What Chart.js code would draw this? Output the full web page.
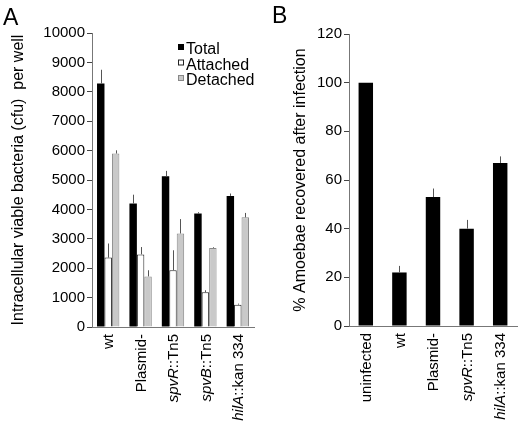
<!DOCTYPE html>
<html>
<head>
<meta charset="utf-8">
<script src="https://cdn.jsdelivr.net/npm/chart.js@4.4.1/dist/chart.umd.min.js"></script>
<style>
  body{ margin:0; background:#fff; }
  #wrapA{ position:absolute; left:0; top:0; width:260px; height:424px; }
  #wrapB{ position:absolute; left:260px; top:0; width:258px; height:424px; }
</style>
</head>
<body>
<div id="wrapA"><canvas id="chartA" width="260" height="424"></canvas></div>
<div id="wrapB"><canvas id="chartB" width="258" height="424"></canvas></div>
<script>
const FONT = "'Liberation Sans', Arial, Helvetica, sans-serif";

// panel A
const strainsA = ['wt', 'Plasmid-', 'spvR::Tn5', 'spvB::Tn5', 'hilA::kan 334'];
const totalA = [8280, 4200, 5130, 3860, 4460];
const totalErrA = [470, 300, 180, 45, 80];
const attachedA = [2360, 2470, 1930, 1180, 760];
const attachedErrA = [480, 250, 680, 70, 35];
const detachedA = [5900, 1720, 3180, 2690, 3730];
const detachedErrA = [110, 210, 490, 25, 150];

// panel B
const strainsB = ['uninfected', 'wt', 'Plasmid-', 'spvR::Tn5', 'hilA::kan 334'];
const recoveredB = [100, 22, 53, 40, 67];
const recoveredErrB = [0, 2.7, 3.5, 3.6, 2.7];

// thin one-sided error bars
const errorBars = {
  id: 'errorBars',
  afterDatasetsDraw(chart){
    const ctx = chart.ctx, y = chart.scales.y;
    ctx.save();
    ctx.strokeStyle = '#555';
    ctx.lineWidth = 1;
    chart.data.datasets.forEach((ds, di)=>{
      if(!ds.errors) return;
      chart.getDatasetMeta(di).data.forEach((bar, i)=>{
        const e = ds.errors[i];
        if(!e) return;
        const x = Math.round(bar.x) + 0.5;
        ctx.beginPath();
        ctx.moveTo(x, bar.y);
        ctx.lineTo(x, y.getPixelForValue(ds.data[i] + e));
        ctx.stroke();
      });
    });
    ctx.restore();
  }
};

// rotated category labels, gene name before '::' in italics
const strainLabels = {
  id: 'strainLabels',
  afterDraw(chart){
    const ctx = chart.ctx, xs = chart.scales.x;
    const top = chart.chartArea.bottom + 7;
    ctx.save();
    ctx.fillStyle = '#000';
    ctx.textBaseline = 'middle';
    ctx.textAlign = 'left';
    chart.data.labels.forEach((lab, i)=>{
      const k = lab.indexOf('::');
      const parts = k > 0 ? [[lab.slice(0, k), true], [lab.slice(k), false]] : [[lab, false]];
      let w = 0;
      parts.forEach(p=>{ ctx.font = (p[1] ? 'italic ' : '') + '15px ' + FONT; w += ctx.measureText(p[0]).width; });
      ctx.save();
      ctx.translate(xs.getPixelForValue(i) + 1, top);
      ctx.rotate(-Math.PI / 2);
      let x = -w;
      parts.forEach(p=>{
        ctx.font = (p[1] ? 'italic ' : '') + '15px ' + FONT;
        ctx.fillText(p[0], x, 0);
        x += ctx.measureText(p[0]).width;
      });
      ctx.restore();
    });
    ctx.restore();
  }
};

// panel letter and optional boxed legend
const extras = {
  id: 'extras',
  afterDraw(chart, args, opts){
    const ctx = chart.ctx;
    ctx.save();
    ctx.fillStyle = '#000';
    ctx.font = '23px ' + FONT;
    ctx.textBaseline = 'alphabetic';
    ctx.fillText(opts.letter, opts.lx, opts.ly);
    if(opts.legend){
      ctx.font = '16px ' + FONT;
      chart.data.datasets.forEach((ds, i)=>{
        const base = 54 + i * 15.5;
        ctx.fillStyle = ds.backgroundColor;
        ctx.fillRect(178, base - 10, 6, 6);
        ctx.strokeStyle = ds.borderColor;
        ctx.lineWidth = 1;
        ctx.strokeRect(178.5, base - 9.5, 5, 5);
        ctx.fillStyle = '#000';
        ctx.fillText(ds.label, 186, base);
      });
    }
    ctx.restore();
  }
};

function yAxis(max, step, width, title, titlePad){
  return {
    min: 0, max: max,
    afterFit: s => { s.width = width; },
    border: { display: true, color: '#777', width: 1 },
    grid: { display: true, drawOnChartArea: false, drawTicks: true, tickLength: 5, color: '#444' },
    ticks: { stepSize: step, padding: 2, color: '#000', font: { family: FONT, size: 15 }, callback: v => String(v) },
    title: { display: true, text: title, color: '#000', font: { family: FONT, size: 16 }, padding: { top: titlePad, bottom: 0 } }
  };
}

const xAxis = {
  afterFit: s => { s.height = 0; },
  border: { display: true, color: '#777', width: 1 },
  grid: { display: false },
  ticks: { display: false }
};

new Chart(document.getElementById('chartA'), {
  type: 'bar',
  data: {
    labels: strainsA,
    datasets: [
      { label: 'Total', data: totalA, errors: totalErrA, backgroundColor: '#000', borderColor: '#000', borderWidth: 0 },
      { label: 'Attached', data: attachedA, errors: attachedErrA, backgroundColor: '#fff', borderColor: '#222', borderWidth: 1 },
      { label: 'Detached', data: detachedA, errors: detachedErrA, backgroundColor: '#c9c9c9', borderColor: '#888', borderWidth: 1 }
    ]
  },
  options: {
    responsive: false, animation: false,
    layout: { padding: { top: 33, bottom: 97, left: 0, right: 6 } },
    datasets: { bar: { categoryPercentage: 0.69, barPercentage: 1 } },
    plugins: { legend: { display: false }, tooltip: { enabled: false },
      extras: { letter: 'A', lx: 3, ly: 25, legend: true } },
    scales: { x: xAxis, y: yAxis(10000, 1000, 92, 'Intracellular viable bacteria (cfu)  per well', 9) }
  },
  plugins: [errorBars, strainLabels, extras]
});

new Chart(document.getElementById('chartB'), {
  type: 'bar',
  data: {
    labels: strainsB,
    datasets: [
      { label: '% Amoebae recovered', data: recoveredB, errors: recoveredErrB, backgroundColor: '#000', borderWidth: 0 }
    ]
  },
  options: {
    responsive: false, animation: false,
    layout: { padding: { top: 34, bottom: 98, left: 0, right: 1 } },
    datasets: { bar: { categoryPercentage: 1, barPercentage: 0.43 } },
    plugins: { legend: { display: false }, tooltip: { enabled: false },
      extras: { letter: 'B', lx: 12, ly: 23, legend: false } },
    scales: { x: xAxis, y: yAxis(120, 20, 89, '% Amoebae recovered after infection', 31) }
  },
  plugins: [errorBars, strainLabels, extras]
});
</script>
</body>
</html>
